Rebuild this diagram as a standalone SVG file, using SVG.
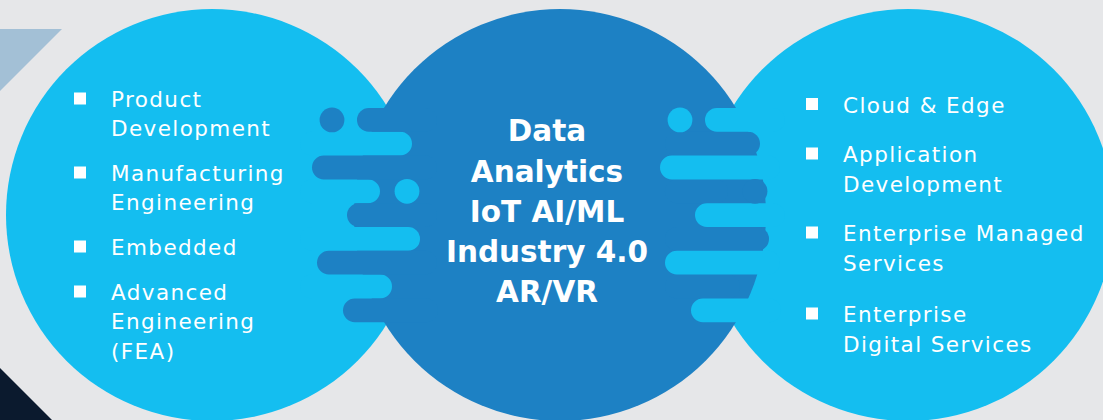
<svg xmlns="http://www.w3.org/2000/svg" width="1103" height="420" viewBox="0 0 1103 420">
  <defs>
    <style>
      .bg { fill: #e6e7e9; }
      .lt { fill: #14bef0; }
      .dk { fill: #1d81c4; }
      .item { font-family: "DejaVu Sans", "Liberation Sans", sans-serif; font-size: 21.5px; letter-spacing: 1.4px; fill: #ffffff; }
      .hub { font-family: "DejaVu Sans", "Liberation Sans", sans-serif; font-size: 29.5px; font-weight: bold; fill: #ffffff; text-anchor: middle; }
      .bullet { fill: #ffffff; }
    </style>
  </defs>

  <!-- backdrop and corner accents -->
  <rect class="bg" x="0" y="0" width="1103" height="420"/>
  <polygon points="0,29 62,29 0,91" fill="#a3c0d6"/>
  <polygon points="0,368 52,420 0,420" fill="#0b1a2e"/>

  <!-- left circle: engineering services -->
  <g id="node-engineering">
    <circle class="lt" cx="212" cy="215" r="206"/>
    <rect class="bullet" x="74" y="92.5" width="12" height="12"/>
    <text class="item" x="111" y="107">Product</text>
    <text class="item" x="111" y="136">Development</text>
    <rect class="bullet" x="74" y="166.5" width="12" height="12"/>
    <text class="item" x="111" y="181">Manufacturing</text>
    <text class="item" x="111" y="210">Engineering</text>
    <rect class="bullet" x="74" y="240.5" width="12" height="12"/>
    <text class="item" x="111" y="255">Embedded</text>
    <rect class="bullet" x="74" y="285.5" width="12" height="12"/>
    <text class="item" x="111" y="300">Advanced</text>
    <text class="item" x="111" y="329">Engineering</text>
    <text class="item" x="111" y="359">(FEA)</text>
  </g>

  <!-- right circle: digital services -->
  <g id="node-digital">
    <circle class="lt" cx="908" cy="215" r="206"/>
    <rect class="bullet" x="806" y="98" width="12" height="12"/>
    <text class="item" x="843" y="112.5">Cloud &amp; Edge</text>
    <rect class="bullet" x="806" y="147.5" width="12" height="12"/>
    <text class="item" x="843" y="162">Application</text>
    <text class="item" x="843" y="192">Development</text>
    <rect class="bullet" x="806" y="226.5" width="12" height="12"/>
    <text class="item" x="843" y="241">Enterprise Managed</text>
    <text class="item" x="843" y="271">Services</text>
    <rect class="bullet" x="806" y="307.5" width="12" height="12"/>
    <text class="item" x="843" y="322">Enterprise</text>
    <text class="item" x="843" y="352">Digital Services</text>
  </g>

  <!-- centre circle: technology hub -->
  <g id="node-hub">
    <circle class="dk" cx="560" cy="215" r="206"/>
    <text class="hub" x="547" y="141">Data</text>
    <text class="hub" x="547" y="182">Analytics</text>
    <text class="hub" x="547" y="222">IoT AI/ML</text>
    <text class="hub" x="547" y="262">Industry 4.0</text>
    <text class="hub" x="547" y="302">AR/VR</text>
  </g>

  <!-- interlocking fingers joining the circles -->
  <g id="connectors">
    <!-- left seam: light fingers reach right, dark fingers reach left -->
    <rect class="lt" x="300" y="131.8" width="112" height="23.8" rx="11.9"/>
    <rect class="lt" x="300" y="179.4" width="80" height="23.8" rx="11.9"/>
    <rect class="lt" x="300" y="227" width="120" height="23.8" rx="11.9"/>
    <rect class="lt" x="300" y="274.6" width="92" height="23.8" rx="11.9"/>
    <rect class="dk" x="357" y="108" width="80" height="23.8" rx="11.9"/>
    <rect class="dk" x="312" y="155.6" width="125" height="23.8" rx="11.9"/>
    <rect class="dk" x="347" y="203.2" width="90" height="23.8" rx="11.9"/>
    <rect class="dk" x="317" y="250.8" width="120" height="23.8" rx="11.9"/>
    <rect class="dk" x="343" y="298.4" width="95" height="23.8" rx="11.9"/>
    <circle class="dk" cx="332" cy="119.9" r="12.4"/>
    <circle class="lt" cx="407" cy="191.3" r="12.4"/>

    <!-- right seam: dark fingers reach right, light fingers reach left -->
    <rect class="dk" x="665" y="131.8" width="95" height="23.8" rx="11.9"/>
    <rect class="dk" x="665" y="179.4" width="63" height="23.8" rx="11.9"/>
    <rect class="dk" x="665" y="227" width="104" height="23.8" rx="11.9"/>
    <rect class="dk" x="665" y="274.6" width="75" height="23.8" rx="11.9"/>
    <rect class="lt" x="705" y="108" width="80" height="23.8" rx="11.9"/>
    <rect class="lt" x="660" y="155.6" width="120" height="23.8" rx="11.9"/>
    <rect class="lt" x="695" y="203.2" width="90" height="23.8" rx="11.9"/>
    <rect class="lt" x="665" y="250.8" width="115" height="23.8" rx="11.9"/>
    <rect class="lt" x="691" y="298.4" width="90" height="23.8" rx="11.9"/>
    <circle class="lt" cx="680" cy="119.9" r="12.4"/>
    <circle class="dk" cx="755" cy="191.3" r="12.4"/>
  </g>
</svg>
